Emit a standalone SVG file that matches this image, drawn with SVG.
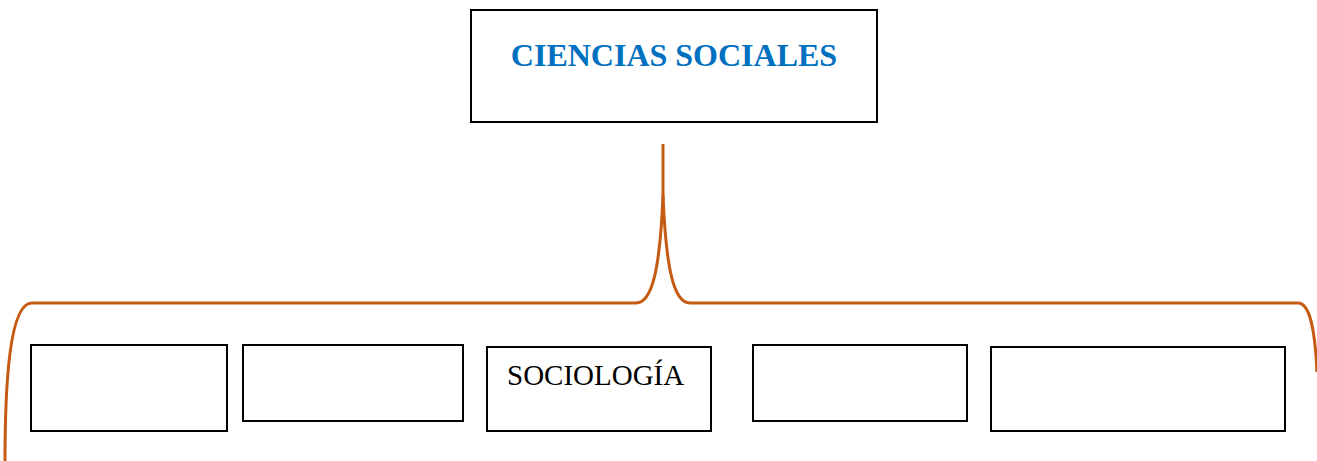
<svg xmlns="http://www.w3.org/2000/svg" width="1317" height="461" viewBox="0 0 1317 461">
<style>
.box{fill:#fff;stroke:#000;stroke-width:2}
.brace{fill:none;stroke:#C55A11;stroke-width:3}
.title{font-family:"Liberation Serif",serif;font-weight:bold;font-size:32px;fill:#0070C0}
.lbl{font-family:"Liberation Serif",serif;font-size:29px;fill:#000}
</style>
<rect width="1317" height="461" fill="#fff"/>
<g id="connectors">
<path class="brace" d="M5,461 C5,380 10,303 32,303 L636,303 C652,303 660,270 663,195 C666,270 674,303 690,303 L1298,303 C1310,303 1315,330 1317,372"/>
<line class="brace" x1="663" y1="144" x2="663" y2="200"/>
</g>
<g id="n-ciencias">
<rect class="box" x="471" y="10" width="406" height="112"/>
<text class="title" x="674" y="66" text-anchor="middle">CIENCIAS SOCIALES</text>
</g>
<g id="n1"><rect class="box" x="31" y="345" width="196" height="86"/></g>
<g id="n2"><rect class="box" x="243" y="345" width="220" height="76"/></g>
<g id="n3">
<rect class="box" x="487" y="347" width="224" height="84"/>
<text class="lbl" x="507" y="385">SOCIOLOGÍA</text>
</g>
<g id="n4"><rect class="box" x="753" y="345" width="214" height="76"/></g>
<g id="n5"><rect class="box" x="991" y="347" width="294" height="84"/></g>
</svg>
